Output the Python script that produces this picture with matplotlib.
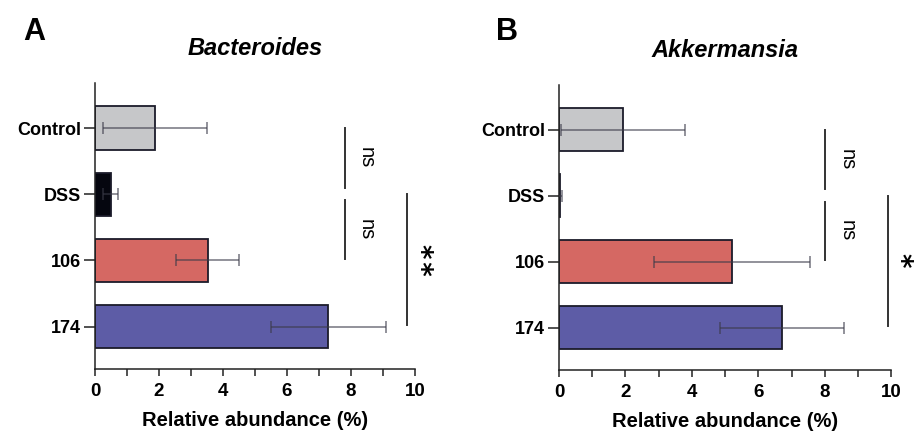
import matplotlib.pyplot as plt
import numpy as np

plt.rcParams['font.family'] = ['Liberation Sans', 'DejaVu Sans']

groups = ['Control', 'DSS', '106', '174']
colors = ['#C6C7C9', '#05060F', '#D56863', '#5D5CA6']

bact_mean = [1.87, 0.49, 3.52, 7.29]
bact_sd = [1.62, 0.23, 0.98, 1.80]

akk_mean = [1.92, 0.04, 5.22, 6.71]
akk_sd = [1.87, 0.06, 2.35, 1.87]

# significance brackets: (x, y_start, y_end, label)
bact_sig = [(7.8, 0.0, 0.9, 'ns'), (7.8, 1.09, 1.98, 'ns'), (9.75, 1.0, 2.97, '*\u200a*')]
akk_sig = [(8.0, 0.0, 0.9, 'ns'), (8.0, 1.09, 1.98, 'ns'), (9.9, 1.0, 2.97, '*')]

fig = plt.figure(figsize=(9.15, 4.34), dpi=100)
axA = fig.add_axes([0.1038, 0.1498, 0.3497, 0.659])
axB = fig.add_axes([0.611, 0.1475, 0.363, 0.657])


def draw(ax, means, sds, sig, title, star_x, ns_dx):
    y = np.arange(len(groups))
    ax.barh(y, means, height=0.65, color=colors, edgecolor='#1b1b2a', linewidth=1.3, zorder=2)
    ax.errorbar(means, y, xerr=sds, fmt='none', ecolor='#3a3a48', alpha=0.7,
                elinewidth=1.1, capsize=4, capthick=1.1, zorder=3)
    ax.set_ylim(3.64, -0.68)
    ax.set_xlim(0, 10)
    ax.set_yticks(y)
    ax.set_yticklabels(groups, fontsize=13, fontweight='bold')
    ax.set_xticks(np.arange(0, 11, 2))
    ax.set_xticks(np.arange(1, 10, 2), minor=True)
    ax.tick_params(axis='x', labelsize=13.5, length=5, width=1.1, colors='#222',
                   labelcolor='black', pad=5)
    ax.tick_params(axis='x', which='minor', length=5, width=1.1, colors='#222')
    ax.tick_params(axis='y', length=8, width=1.1, colors='#222', labelcolor='black', pad=2)
    for lab in ax.get_xticklabels():
        lab.set_fontweight('bold')
    for s in ['top', 'right']:
        ax.spines[s].set_visible(False)
    for s in ['left', 'bottom']:
        ax.spines[s].set_linewidth(1.1)
        ax.spines[s].set_color('#222')
    ax.set_xlabel('Relative abundance (%)', fontsize=14.5, fontweight='bold', labelpad=8)
    ax.set_title(title, fontsize=17, fontweight='bold', style='italic', pad=20)
    for (x, y0, y1, lab) in sig:
        ax.plot([x, x], [y0, y1], color='#333', lw=1.4, clip_on=False, zorder=4)
        ym = (y0 + y1) / 2
        if lab == 'ns':
            ax.text(x + ns_dx, ym, lab, rotation=-90, fontsize=14.5, ha='center', va='center',
                    clip_on=False)
        else:
            ax.text(star_x, ym, lab, rotation=-90, fontsize=20, fontweight='bold',
                    family=['DejaVu Sans', 'Liberation Sans'], ha='center', va='center',
                    clip_on=False)


draw(axA, bact_mean, bact_sd, bact_sig, 'Bacteroides', 10.15, 0.68)
draw(axB, akk_mean, akk_sd, akk_sig, 'Akkermansia', 10.26, 0.68)

fig.text(0.037, 0.927, 'A', fontsize=22, fontweight='bold', ha='center', va='center')
fig.text(0.554, 0.927, 'B', fontsize=22, fontweight='bold', ha='center', va='center')

fig.savefig('out.png', dpi=100, facecolor='white')
